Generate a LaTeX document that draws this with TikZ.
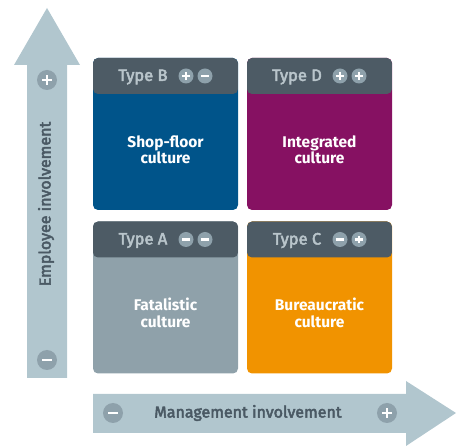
\documentclass[tikz,border=0pt]{standalone}
\usepackage{fontspec}
\setmainfont{Fira Sans}
\newfontfamily\medfont{Fira Sans}[FakeBold=3]
\usepackage{xcolor}
\usepackage{tikz}

\definecolor{axisfill}{HTML}{B1C6CE}
\definecolor{axistext}{HTML}{4A5964}
\definecolor{signgray}{HTML}{8EA1AB}
\definecolor{headgray}{HTML}{4D5B65}
\definecolor{headtext}{HTML}{B9C5CB}
\definecolor{shopblue}{HTML}{00548A}
\definecolor{integpurple}{HTML}{861162}
\definecolor{fatalgray}{HTML}{8FA1AA}
\definecolor{bureauorange}{HTML}{F19300}

\begin{document}
\begin{tikzpicture}[x=1pt, y=-1pt,
    quad/.style={rounded corners=5pt, minimum width=145pt, minimum height=152pt, inner sep=0pt,
      path picture={\fill[headgray] (path picture bounding box.north west) rectangle ([yshift=-36pt]path picture bounding box.north east);}},
    typelabel/.style={text=headtext, font=\medfont\fontsize{16.5}{17}\selectfont, inner sep=0pt},
    culture/.style={text=white, font=\bfseries\fontsize{15.5}{16.5}\selectfont, align=center, inner sep=0pt},
    sign/.style={circle, fill=signgray, inner sep=0pt, minimum size=#1},
    minussign/.style={sign=#1,
      path picture={\draw[white, line width=0.14*#1] ([xshift=-0.24*#1]path picture bounding box.center) -- ([xshift=0.24*#1]path picture bounding box.center);}},
    plussign/.style={sign=#1,
      path picture={\draw[white, line width=0.14*#1] ([xshift=-0.24*#1]path picture bounding box.center) -- ([xshift=0.24*#1]path picture bounding box.center)
        ([yshift=-0.24*#1]path picture bounding box.center) -- ([yshift=0.24*#1]path picture bounding box.center);}},
    axislabel/.style={text=axistext, font=\medfont\fontsize{16}{17}\selectfont, inner sep=0pt}]
     \useasboundingbox (0,0) rectangle (456,446);

     % axes
     \fill[axisfill] (27,378) -- (27,65) -- (14,65) -- (47,8) -- (80,65) -- (67,65) -- (67,378) -- cycle;
     \fill[axisfill] (93,394) -- (406,394) -- (406,381) -- (456,413) -- (406,446) -- (406,433) -- (93,433) -- cycle;
     \node[plussign=20pt] (yplus) at (47,80) {};
     \node[minussign=20pt] (yminus) at (47,360) {};
     \node[axislabel, rotate=90] (ylab) at (46,204) {Employee involvement};
     \node[minussign=20pt] (xminus) at (113,413) {};
     \node[plussign=20pt] (xplus) at (387,413) {};
     \node[axislabel] (xlab) at (248,413) {Management involvement};

     % quadrants
     \node[quad, fill=shopblue] (B) at (165.5,134) {};
     \node[quad, fill=integpurple] (D) at (319.5,134) {};
     \node[quad, fill=fatalgray] (A) at (165.5,297.5) {};
     \node[quad, fill=bureauorange] (C) at (319.5,297.5) {};

     \node[typelabel] (Bt) at (143,77) {Type B};
     \node[plussign=15pt] (Bs1) at (186,76) {};
     \node[minussign=15pt] (Bs2) at (205,76) {};
     \node[typelabel] (Dt) at (297,77) {Type D};
     \node[plussign=15pt] (Ds1) at (340,76) {};
     \node[plussign=15pt] (Ds2) at (359,76) {};
     \node[typelabel] (At) at (143,240.5) {Type A};
     \node[minussign=15pt] (As1) at (186,239.5) {};
     \node[minussign=15pt] (As2) at (205,239.5) {};
     \node[typelabel] (Ct) at (297,240.5) {Type C};
     \node[minussign=15pt] (Cs1) at (340,239.5) {};
     \node[plussign=15pt] (Cs2) at (359,239.5) {};

     \node[culture] (Bc) at (165.5,150) {Shop-floor\\culture};
     \node[culture] (Dc) at (319.5,150) {Integrated\\culture};
     \node[culture] (Ac) at (165.5,313) {Fatalistic\\culture};
     \node[culture] (Cc) at (319.5,313) {Bureaucratic\\culture};
\end{tikzpicture}
\end{document}
